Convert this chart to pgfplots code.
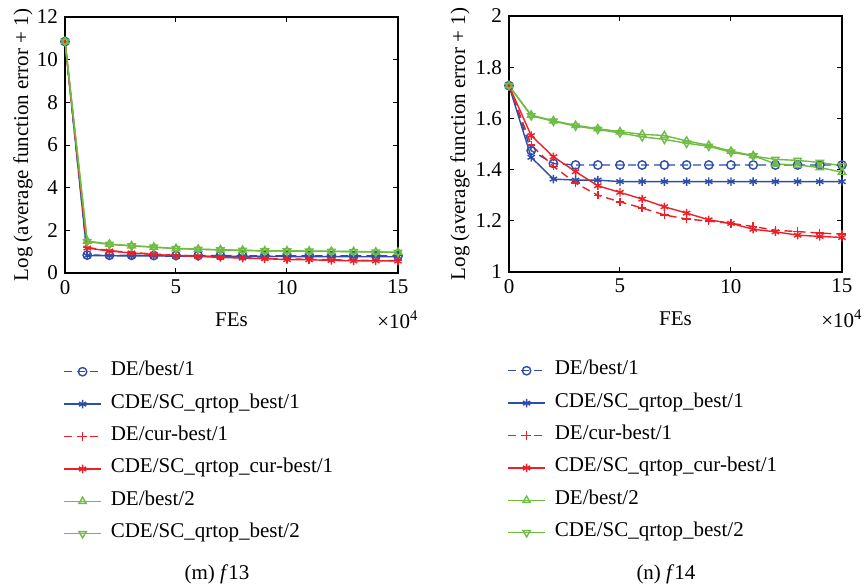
\documentclass[border=0pt]{standalone}
\usepackage{fontspec}
\setmainfont{Liberation Serif}
\usepackage{pgfplots}
\pgfplotsset{compat=1.18}

\definecolor{mblue}{RGB}{46,76,170}
\definecolor{mred}{RGB}{236,32,38}
\definecolor{mgreen}{RGB}{110,188,66}

\newcommand{\cfont}{\fontsize{10.5}{12}\selectfont}

\pgfplotsset{
  cdeaxis/.style={
    scale only axis, width=166.5pt, height=128pt,
    font=\cfont,
    xmin=0, xmax=150000,
    xtick={0,50000,100000,150000},
    scaled x ticks=base 10:-4,
    xtick scale label code/.code={×10\textsuperscript{##1}},
    every x tick scale label/.style={at={(axis description cs:1,0)}, anchor=center, yshift=-23.5pt},
    xlabel={FEs},
    xlabel style={at={(axis description cs:0.5,0)}, anchor=center, yshift=-23.5pt},
    ylabel={Log (average function error + 1)},
    /pgf/number format/assume math mode=true,
    tick align=inside, xtick pos=both, ytick pos=both,
    major tick length=2.5pt,
    axis line style={line width=0.6pt},
    every tick/.style={black, line width=0.5pt},
    legend cell align=left,
    legend style={draw=none, fill=none, anchor=north west, inner sep=0pt,
      row sep=6.2pt, font=\cfont,
      nodes={inner sep=0pt, text height=7pt, text depth=3pt},
      /tikz/every odd column/.append style={column sep=4.5pt}},
    legend image code/.code={
      \draw[mark repeat=2, mark phase=2, ##1] plot coordinates {(0pt,0pt) (9.25pt,0pt) (18.5pt,0pt)};
    },
    every axis plot/.append style={line width=0.7pt, mark size=2.1pt},
  },
  s1/.style={mblue, dashed, dash pattern=on 4pt off 2.5pt, mark=o, every mark/.append style={solid}},
  s2/.style={mblue, solid, mark=asterisk},
  s3/.style={mred, dashed, dash pattern=on 4pt off 2.5pt, mark=+, every mark/.append style={solid}},
  s4/.style={mred, solid, mark=asterisk},
  s5/.style={mgreen, solid, mark=triangle},
  s6/.style={mgreen, solid, mark=triangle, every mark/.append style={rotate=180}},
}

\begin{document}
\begin{tikzpicture}
\useasboundingbox (0,0) rectangle (432pt,-292pt);

% (m) f13
\begin{axis}[cdeaxis, at={(32.5pt,-136.5pt)}, anchor=south west,
  ymin=0, ymax=12, ytick={0,2,...,12},
  ylabel style={at={(axis description cs:-0.126,0.5)}, anchor=center},
  legend style={at={(axis description cs:-0.006,-0.345)}}]
\addplot[s1] coordinates {(0,10.85) (10000,0.84) (20000,0.83) (30000,0.83) (40000,0.82) (50000,0.82) (60000,0.82) (70000,0.82) (80000,0.81) (90000,0.81) (100000,0.81) (110000,0.81) (120000,0.80) (130000,0.80) (140000,0.80) (150000,0.80)};
\addlegendentry{DE/best/1}
\addplot[s2] coordinates {(0,10.85) (10000,0.82) (20000,0.81) (30000,0.80) (40000,0.80) (50000,0.79) (60000,0.79) (70000,0.78) (80000,0.78) (90000,0.78) (100000,0.77) (110000,0.77) (120000,0.77) (130000,0.76) (140000,0.76) (150000,0.76)};
\addlegendentry{CDE/SC\_qrtop\_best/1}
\addplot[s3] coordinates {(0,10.85) (10000,1.20) (20000,1.05) (30000,0.96) (40000,0.89) (50000,0.83) (60000,0.80) (70000,0.75) (80000,0.72) (90000,0.69) (100000,0.66) (110000,0.64) (120000,0.62) (130000,0.60) (140000,0.59) (150000,0.58)};
\addlegendentry{DE/cur-best/1}
\addplot[s4] coordinates {(0,10.85) (10000,1.17) (20000,1.03) (30000,0.94) (40000,0.87) (50000,0.81) (60000,0.78) (70000,0.73) (80000,0.70) (90000,0.67) (100000,0.63) (110000,0.62) (120000,0.59) (130000,0.57) (140000,0.57) (150000,0.56)};
\addlegendentry{CDE/SC\_qrtop\_cur-best/1}
\addplot[s5] coordinates {(0,10.85) (10000,1.50) (20000,1.36) (30000,1.28) (40000,1.22) (50000,1.15) (60000,1.12) (70000,1.09) (80000,1.07) (90000,1.04) (100000,1.04) (110000,1.03) (120000,1.02) (130000,1.01) (140000,0.99) (150000,0.98)};
\addlegendentry{DE/best/2}
\addplot[s6] coordinates {(0,10.85) (10000,1.47) (20000,1.34) (30000,1.27) (40000,1.21) (50000,1.14) (60000,1.11) (70000,1.08) (80000,1.06) (90000,1.03) (100000,1.03) (110000,1.02) (120000,1.01) (130000,1.00) (140000,0.98) (150000,0.97)};
\addlegendentry{CDE/SC\_qrtop\_best/2}
\end{axis}

% (n) f14
\begin{axis}[cdeaxis, at={(254.5pt,-136pt)}, anchor=south west,
  ymin=1, ymax=2, ytick={1,1.2,...,2.01},
  ylabel style={at={(axis description cs:-0.147,0.5)}, anchor=center},
  legend style={at={(axis description cs:-0.006,-0.345)}}]
\addplot[s1] coordinates {(0,1.728) (10000,1.474) (20000,1.424) (30000,1.418) (40000,1.418) (50000,1.418) (60000,1.418) (70000,1.418) (80000,1.418) (90000,1.418) (100000,1.418) (110000,1.418) (120000,1.418) (130000,1.418) (140000,1.418) (150000,1.418)};
\addlegendentry{DE/best/1}
\addplot[s2] coordinates {(0,1.728) (10000,1.448) (20000,1.363) (30000,1.359) (40000,1.359) (50000,1.353) (60000,1.353) (70000,1.353) (80000,1.353) (90000,1.353) (100000,1.353) (110000,1.353) (120000,1.353) (130000,1.353) (140000,1.353) (150000,1.353)};
\addlegendentry{CDE/SC\_qrtop\_best/1}
\addplot[s3] coordinates {(0,1.728) (10000,1.496) (20000,1.413) (30000,1.347) (40000,1.300) (50000,1.274) (60000,1.250) (70000,1.223) (80000,1.207) (90000,1.199) (100000,1.190) (110000,1.178) (120000,1.163) (130000,1.158) (140000,1.152) (150000,1.148)};
\addlegendentry{DE/cur-best/1}
\addplot[s4] coordinates {(0,1.728) (10000,1.533) (20000,1.450) (30000,1.392) (40000,1.337) (50000,1.311) (60000,1.285) (70000,1.255) (80000,1.230) (90000,1.204) (100000,1.190) (110000,1.167) (120000,1.157) (130000,1.144) (140000,1.139) (150000,1.135)};
\addlegendentry{CDE/SC\_qrtop\_cur-best/1}
\addplot[s5] coordinates {(0,1.728) (10000,1.613) (20000,1.591) (30000,1.573) (40000,1.560) (50000,1.548) (60000,1.538) (70000,1.533) (80000,1.512) (90000,1.495) (100000,1.472) (110000,1.455) (120000,1.422) (130000,1.418) (140000,1.408) (150000,1.390)};
\addlegendentry{DE/best/2}
\addplot[s6] coordinates {(0,1.728) (10000,1.610) (20000,1.589) (30000,1.570) (40000,1.557) (50000,1.543) (60000,1.528) (70000,1.518) (80000,1.503) (90000,1.491) (100000,1.468) (110000,1.453) (120000,1.440) (130000,1.436) (140000,1.428) (150000,1.415)};
\addlegendentry{CDE/SC\_qrtop\_best/2}
\end{axis}

\node[font=\cfont] at (108.5pt,-287pt) {(m) \textit{f}13};
\node[font=\cfont] at (333pt,-287pt) {(n) \textit{f}14};
\end{tikzpicture}
\end{document}
